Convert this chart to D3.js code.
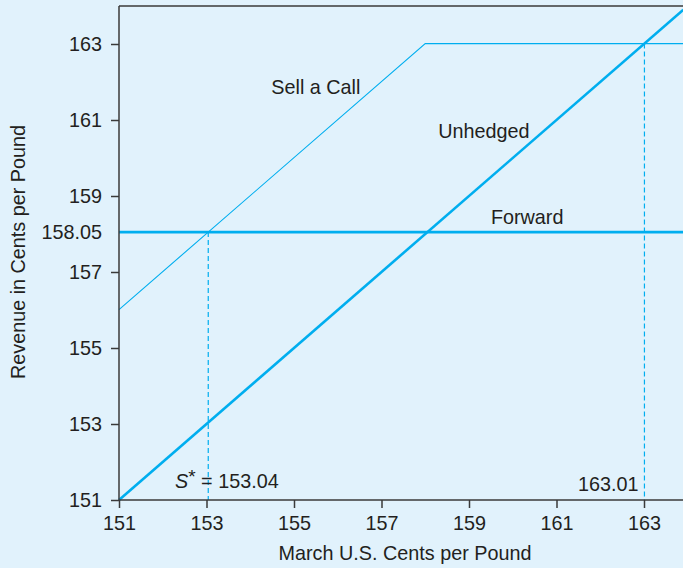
<!DOCTYPE html>
<html>
<head>
<meta charset="utf-8">
<script src="https://cdn.jsdelivr.net/npm/d3@7"></script>
<style>
  html, body { margin: 0; padding: 0; background: #e1f2fc; }
  svg { display: block; }
  text { font-family: "Liberation Sans", Arial, Helvetica, sans-serif; fill: #231f20; }
</style>
</head>
<body>
<svg id="chart" width="683" height="568"></svg>
<script>
// ---- data ----
const xTicks = [151, 153, 155, 157, 159, 161, 163];
const yTicks = [151, 153, 155, 157, 159, 161, 163];
const forwardPrice = 158.05;
const sStar = 153.04;
const breakEven = 163.01;
// revenue curves (spot price -> revenue)
const unhedged = [[151, 151], [163.9, 163.9]];
const forward = [[151, 158.05], [163.9, 158.05]];
const sellCall = [[151, 156.01], [158, 163.01], [163.9, 163.01]];
const seriesLabels = [
  { text: "Sell a Call", x: 155.5, y: 161.68 },
  { text: "Unhedged", x: 159.34, y: 160.53 },
  { text: "Forward", x: 160.33, y: 158.26 }
];

// ---- layout ----
const svg = d3.select("#chart");
const W = 683, H = 568;
const mL = 119, mR = 683, mT = 6, mB = 500;
const x = d3.scaleLinear().domain([151, 151 + (mR - mL) / 43.75]).range([mL, mR]);
const y = d3.scaleLinear().domain([151, 164]).range([mB, mT]);
const blue = "#00aeef";
const axisCol = "#3a3a3a";
const fs = "19.8px";

svg.append("rect").attr("width", W).attr("height", H).attr("fill", "#e1f2fc");

// lines
const line = d3.line().x(d => x(d[0])).y(d => y(d[1]));
svg.append("path").datum(sellCall).attr("d", line).attr("fill", "none")
  .attr("stroke", blue).attr("stroke-width", 1.1);
svg.append("path").datum(forward).attr("d", line).attr("fill", "none")
  .attr("stroke", blue).attr("stroke-width", 2.6);
svg.append("path").datum(unhedged).attr("d", line).attr("fill", "none")
  .attr("stroke", blue).attr("stroke-width", 2.6);

// dashed guides
svg.append("line").attr("x1", x(sStar)).attr("x2", x(sStar))
  .attr("y1", y(forwardPrice)).attr("y2", y(151))
  .attr("stroke", blue).attr("stroke-width", 1.2).attr("stroke-dasharray", "5,3");
svg.append("line").attr("x1", x(breakEven)).attr("x2", x(breakEven))
  .attr("y1", y(breakEven)).attr("y2", y(151))
  .attr("stroke", blue).attr("stroke-width", 1.2).attr("stroke-dasharray", "5,3");

// axes
const yAxis = d3.axisLeft(y).tickValues(yTicks).tickSize(8).tickPadding(9).tickFormat(d3.format("d"));
const gy = svg.append("g").attr("transform", `translate(${mL},0)`).call(yAxis);
const xAxis = d3.axisBottom(x).tickValues(xTicks).tickSize(8).tickPadding(8).tickFormat(d3.format("d"));
const gx = svg.append("g").attr("transform", `translate(0,${mB})`).call(xAxis);
[gx, gy].forEach(g => {
  g.select(".domain").remove();
  g.selectAll(".tick line").attr("stroke", axisCol).attr("stroke-width", 1.5);
  g.selectAll(".tick text").attr("font-size", fs).attr("fill", "#231f20")
    .style("font-family", "'Liberation Sans', Arial, sans-serif");
});
// axis lines (left, bottom, top)
svg.append("line").attr("x1", mL).attr("x2", mL).attr("y1", mT).attr("y2", mB)
  .attr("stroke", axisCol).attr("stroke-width", 1.5);
svg.append("line").attr("x1", mL).attr("x2", mR).attr("y1", mB).attr("y2", mB)
  .attr("stroke", axisCol).attr("stroke-width", 1.5);
svg.append("line").attr("x1", mL).attr("x2", mR).attr("y1", mT).attr("y2", mT)
  .attr("stroke", axisCol).attr("stroke-width", 1.5);

// forward price label on y axis (no tick)
svg.append("text").attr("x", mL - 17).attr("y", y(forwardPrice)).attr("dy", "0.35em")
  .attr("text-anchor", "end").attr("font-size", fs).text("158.05");

// axis titles
svg.append("text").attr("x", 405).attr("y", 560)
  .attr("text-anchor", "middle").attr("font-size", fs).text("March U.S. Cents per Pound");
svg.append("text").attr("transform", `translate(25,252) rotate(-90)`)
  .attr("text-anchor", "middle").attr("font-size", fs).text("Revenue in Cents per Pound");

// series labels
svg.selectAll(".slabel").data(seriesLabels).enter().append("text")
  .attr("class", "slabel")
  .attr("x", d => x(d.x)).attr("y", d => y(d.y))
  .attr("text-anchor", "middle").attr("font-size", fs).text(d => d.text);

// S* label
const sl = svg.append("text").attr("x", 175).attr("y", 488).attr("font-size", fs);
sl.append("tspan").attr("font-style", "italic").text("S");
sl.append("tspan").attr("dy", -5).attr("font-size", "19px").text("*");
sl.append("tspan").attr("dy", 5).text(" = " + sStar.toFixed(2));

// break-even label
svg.append("text").attr("x", x(breakEven) - 6).attr("y", 491)
  .attr("text-anchor", "end").attr("font-size", fs).text(breakEven.toFixed(2));
</script>
</body>
</html>
